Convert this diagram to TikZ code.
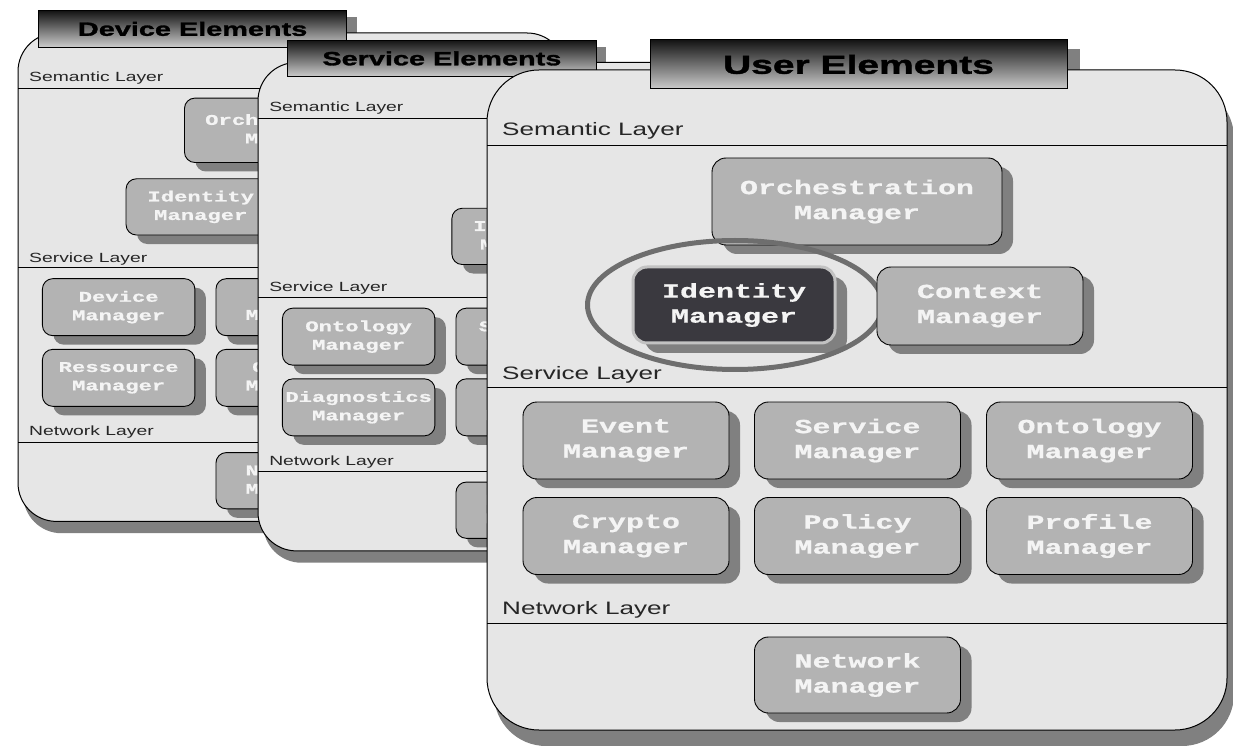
\documentclass[tikz,border=0pt]{standalone}
\usepackage{fontspec}
\usetikzlibrary{shadows,shapes.geometric}

\newfontfamily\boxfont[FakeStretch=1.5,FakeBold=0.8]{Liberation Mono Bold}
\newfontfamily\layerfont[FakeStretch=1.45]{Liberation Sans}
\newfontfamily\titlefont[FakeStretch=1.5,FakeBold=1.5]{Liberation Sans Bold}

\definecolor{panelgray}{HTML}{E6E6E6}
\definecolor{boxgray}{HTML}{B3B3B3}
\definecolor{shadegray}{HTML}{808080}
\definecolor{darkbox}{HTML}{3A393F}
\definecolor{rimgray}{HTML}{C2C2C2}
\definecolor{ringgray}{HTML}{6E6E6E}
\definecolor{textwhite}{HTML}{F4F4F4}

% scale of the panel being drawn (corner radii do not follow the scope scale)
\newcommand\pnlscale{1}

\tikzset{
  mgr/.style={draw=black, line width=0.9pt, fill=boxgray,
    rounded corners=\pnlscale*14pt, inner sep=0pt, align=center,
    text=textwhite, font=\boxfont\fontsize{20}{25}\selectfont,
    minimum width=206pt, minimum height=77pt},
  mbox/.style={mgr, drop shadow={shadow xshift=11pt, shadow yshift=-9pt,
    opacity=1, fill=shadegray}},
  hlbox/.style={mgr, fill=darkbox, draw=rimgray, line width=3pt,
    drop shadow={shadow xshift=12pt, shadow yshift=-10pt, opacity=1, fill=shadegray}},
  ring/.style={ellipse, draw=ringgray, line width=5pt, inner sep=0pt,
    minimum width=295pt, minimum height=129pt},
  layerlabel/.style={anchor=base west, inner sep=0pt, text=black!85,
    font=\layerfont\fontsize{18}{18}\selectfont},
  tabbox/.style={draw=black, line width=1pt, top color=black!92,
    bottom color=black!20, minimum width=417pt, minimum height=49pt,
    inner sep=0pt, text=black, font=\titlefont\fontsize{26}{26}\selectfont},
}

% frame of one element panel: shadows, body, layer rules, labels and title tab
% #1 name prefix, #2 title, #3 horizontal centre of the title tab
\newcommand\panelframe[3]{%
  \fill[shadegray] ({#3-195.5},21) rectangle ({#3+221.5},0);
  \fill[shadegray, rounded corners=\pnlscale*52pt] (7,-16) rectangle (747,-676);
  \draw[line width=1pt, fill=panelgray, rounded corners=\pnlscale*52pt]
    (0,0) rectangle (740,-660);
  \draw[line width=0.9pt] (0,-75) -- (740,-75)
    (0,-317) -- (740,-317) (0,-553) -- (740,-553);
  \node[layerlabel] (#1-sem) at (15,-66) {Semantic Layer};
  \node[layerlabel] (#1-svc) at (15,-310) {Service Layer};
  \node[layerlabel] (#1-net) at (15,-544) {Network Layer};
  \node[tabbox] (#1-tab) at (#3,5.5) {#2};
}

\begin{document}
\begin{tikzpicture}[x=1pt,y=1pt]
\useasboundingbox (0,0) rectangle (1233,745);
\fill[white] (0,0) rectangle (1233,745);

% Device elements
\begin{scope}[shift={(18,712)}, scale=0.74, transform shape]
  \renewcommand\pnlscale{0.74}
  \panelframe{d}{Device Elements}{236}
  \node[mbox, minimum width=290pt, minimum height=87pt] (d-orch) at (370,-131.5) {Orchestration\\Manager};
  \node[mbox, minimum width=202pt, minimum height=76pt] (d-id) at (247,-235) {Identity\\Manager};
  \node[mbox] (d-dev) at (136,-370.5) {Device\\Manager};
  \node[mbox] (d-event) at (370.5,-370.5) {Event\\Manager};
  \node[mbox] (d-res) at (136,-466) {Ressource\\Manager};
  \node[mbox] (d-crypto) at (370.5,-466) {Crypto\\Manager};
  \node[mbox, minimum height=76pt] (d-netm) at (370.5,-605) {Network\\Manager};
\end{scope}

% Service elements
\begin{scope}[shift={(258,682.5)}, scale=0.74, transform shape]
  \renewcommand\pnlscale{0.74}
  \panelframe{s}{Service Elements}{248.5}
  \node[mbox, minimum width=202pt, minimum height=76pt] (s-id) at (363,-235) {Identity\\Manager};
  \node[mbox] (s-onto) at (136,-370.5) {Ontology\\Manager};
  \node[mbox] (s-sec) at (370.5,-370.5) {Security\\Manager};
  \node[mbox] (s-diag) at (136,-466) {Diagnostics\\Manager};
  \node[mbox] (s-crypto) at (370.5,-466) {Crypto\\Manager};
  \node[mbox, minimum height=76pt] (s-netm) at (370.5,-605) {Network\\Manager};
\end{scope}

% User elements
\begin{scope}[shift={(487,675)}]
  \panelframe{u}{User Elements}{371.5}
  \node[mbox, minimum width=290pt, minimum height=87pt] (u-orch) at (370,-131.5) {Orchestration\\Manager};
  \node[hlbox, minimum width=202pt, minimum height=76pt] (u-id) at (247,-235) {Identity\\Manager};
  \node[ring] (u-ring) at (248,-235) {};
  \node[mbox, minimum height=78pt] (u-ctx) at (493,-236) {Context\\Manager};
  \node[mbox] (u-event) at (139,-370.5) {Event\\Manager};
  \node[mbox] (u-svc) at (370.5,-370.5) {Service\\Manager};
  \node[mbox] (u-onto) at (602.5,-370.5) {Ontology\\Manager};
  \node[mbox] (u-crypto) at (139,-466) {Crypto\\Manager};
  \node[mbox] (u-policy) at (370.5,-466) {Policy\\Manager};
  \node[mbox] (u-profile) at (602.5,-466) {Profile\\Manager};
  \node[mbox, minimum height=76pt] (u-netm) at (370.5,-605) {Network\\Manager};
\end{scope}
\end{tikzpicture}
\end{document}
